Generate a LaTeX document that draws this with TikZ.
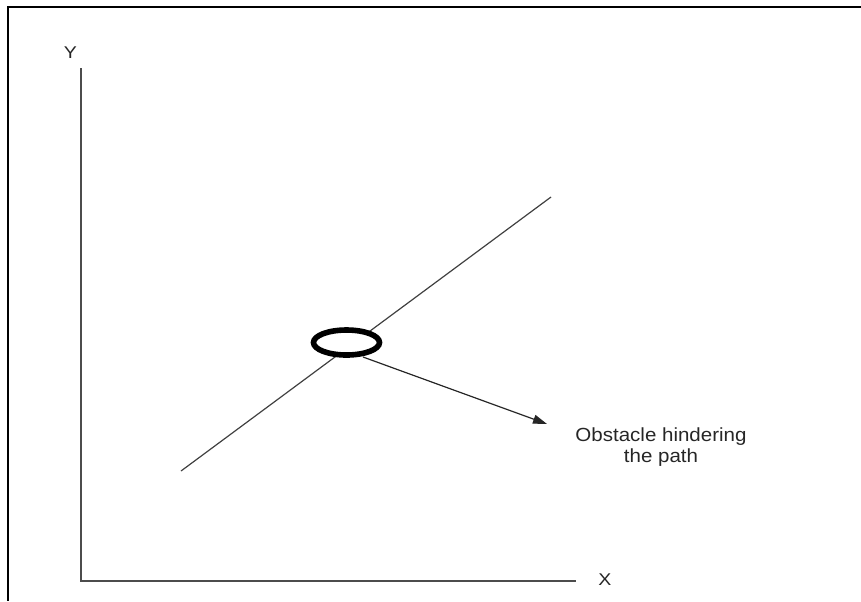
\documentclass[tikz,border=0pt]{standalone}
\usepackage{fontspec}
\setmainfont{Liberation Sans}
\usetikzlibrary{shapes.geometric,arrows.meta}
\begin{document}
\begin{tikzpicture}[x=0.5pt,y=-0.5pt,
  framepen/.style={line width=1pt,black},
  axispen/.style={line width=0.75pt,black!70},
  pathpen/.style={line width=0.6pt,black!75},
  obstacle/.style={ellipse,draw=black,fill=white,line width=2.8pt,
    minimum width=33pt,minimum height=12.5pt,inner sep=0pt},
  axlabel/.style={font=\fontsize{8.5}{9}\selectfont,text=black!85,xscale=1.15,inner sep=0pt},
  note/.style={font=\fontsize{9.5}{10.5}\selectfont,text=black!85,align=center,xscale=1.08,inner sep=0pt},
  pointer/.style={line width=0.6pt,black!85,-{Triangle[length=7pt,width=4.5pt]}}]
\useasboundingbox (0,0) rectangle (861,601);
% partial frame
\coordinate (fTL) at (8,7);
\coordinate (fTR) at (861,7);
\coordinate (fBL) at (8,601);
\draw[framepen] (fTR) -- (fTL) -- (fBL);
% axes
\coordinate (O) at (81,581);
\coordinate (ytop) at (81,68);
\coordinate (xend) at (576,581);
\draw[axispen] (ytop) -- (O) -- (xend);
\node[axlabel] (ylab) at (70.5,52.5) {Y};
\node[axlabel] (xlab) at (605,580) {X};
% path line
\coordinate (p1) at (181,471);
\coordinate (p2) at (551,197);
\draw[pathpen] (p1) -- (p2);
% obstacle
\node[obstacle] (obs) at (346.5,342.5) {};
% pointer
\coordinate (a0) at (363,357);
\coordinate (tip) at (547,424);
\draw[pointer] (a0) -- (tip);
\node[note,anchor=north] (lbl) at (661,427) {Obstacle hindering\\the path};
\end{tikzpicture}
\end{document}
